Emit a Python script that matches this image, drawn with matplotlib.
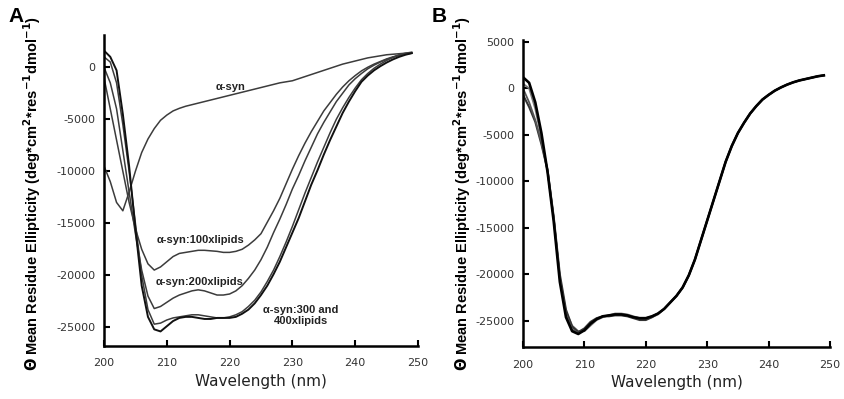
import matplotlib
import matplotlib.pyplot as plt

matplotlib.use('Agg')

plt.rcParams['font.family'] = ['DejaVu Sans']
plt.rcParams['mathtext.default'] = 'bf'
plt.rcParams['axes.unicode_minus'] = False

# Wavelength grid (nm), shared by every curve
wavelength = list(range(200, 250))

# Panel A: alpha-synuclein alone and with increasing lipid ratio
a_syn = [-9500, -11000, -13000, -13800, -12000, -10000, -8200, -6900, -5900, -5100,
         -4600, -4200, -3950, -3750, -3600, -3450, -3300, -3150, -3000, -2850,
         -2700, -2550, -2400, -2250, -2100, -1950, -1800, -1650, -1500, -1400,
         -1300, -1100, -900, -700, -500, -300, -100, 100, 300, 450,
         600, 750, 900, 1000, 1100, 1200, 1250, 1300, 1350, 1350]
a_100x = [-1000, -4000, -7000, -10000, -13000, -15500, -17500, -18900, -19500, -19200,
          -18700, -18200, -17900, -17800, -17700, -17600, -17600, -17650, -17700, -17800,
          -17800, -17700, -17500, -17100, -16600, -16000, -14900, -13800, -12600, -11200,
          -9800, -8500, -7300, -6200, -5200, -4200, -3400, -2600, -1900, -1300,
          -800, -350, 0, 300, 550, 800, 1000, 1150, 1250, 1350]
a_200x = [0, -1500, -4000, -8000, -12000, -16000, -19500, -22000, -23200, -23000,
          -22600, -22200, -21900, -21700, -21500, -21400, -21500, -21700, -21900, -21900,
          -21800, -21500, -21000, -20300, -19500, -18500, -17300, -15900, -14600, -13200,
          -11700, -10400, -9000, -7700, -6400, -5300, -4300, -3300, -2500, -1700,
          -1100, -600, -150, 200, 500, 750, 950, 1150, 1300, 1400]
a_300x = [1000, 500, -1500, -5500, -10000, -15000, -20000, -23300, -24700, -24600,
          -24300, -24100, -24000, -23900, -23800, -23800, -23900, -24000, -24100, -24100,
          -24000, -23800, -23500, -23000, -22400, -21600, -20600, -19500, -18200, -16800,
          -15300, -13700, -12100, -10600, -9100, -7700, -6300, -5000, -3900, -2900,
          -2000, -1200, -600, -100, 300, 650, 950, 1200, 1350, 1450]
a_400x = [1600, 1000, -300, -4500, -9500, -15500, -21000, -24000, -25200, -25400,
          -24900, -24400, -24100, -24000, -24000, -24100, -24200, -24200, -24100, -24100,
          -24100, -24000, -23700, -23300, -22700, -21900, -21000, -19900, -18700, -17300,
          -15900, -14500, -12900, -11300, -9900, -8400, -7000, -5700, -4400, -3300,
          -2300, -1400, -800, -300, 100, 450, 750, 1000, 1200, 1350]

# Panel B: replicate spectra
b_1 = [1200, 600, -1500, -4800, -9000, -14300, -20800, -24600, -26100, -26400,
       -26000, -25300, -24800, -24500, -24400, -24300, -24300, -24400, -24600, -24700,
       -24700, -24500, -24200, -23700, -23000, -22300, -21400, -20100, -18400, -16300,
       -14200, -12100, -10000, -7900, -6200, -4800, -3700, -2700, -1900, -1200,
       -700, -250, 100, 400, 650, 850, 1000, 1150, 1300, 1400]
b_2 = [500, 0, -2200, -5300, -8900, -14000, -20300, -24000, -25500, -26100,
       -26100, -25500, -24900, -24600, -24400, -24200, -24200, -24300, -24500, -24700,
       -24800, -24600, -24300, -23700, -23000, -22300, -21400, -20100, -18400, -16300,
       -14200, -12100, -10000, -7900, -6200, -4800, -3700, -2700, -1900, -1200,
       -700, -250, 100, 400, 650, 850, 1000, 1150, 1300, 1400]
b_3 = [0, -1500, -3400, -5800, -8800, -14000, -20500, -24300, -25900, -26300,
       -26000, -25300, -24800, -24500, -24400, -24300, -24300, -24400, -24600, -24700,
       -24700, -24500, -24200, -23700, -23000, -22300, -21400, -20100, -18400, -16300,
       -14200, -12100, -10000, -7900, -6200, -4800, -3700, -2700, -1900, -1200,
       -700, -250, 100, 400, 650, 850, 1000, 1150, 1300, 1400]
b_4 = [-700, -2000, -3600, -6000, -8800, -13800, -20000, -23800, -25600, -26200,
       -25800, -25100, -24700, -24500, -24500, -24400, -24400, -24500, -24700, -24900,
       -24900, -24600, -24200, -23700, -23000, -22300, -21400, -20100, -18400, -16300,
       -14200, -12100, -10000, -7900, -6200, -4800, -3700, -2700, -1900, -1200,
       -700, -250, 100, 400, 650, 850, 1000, 1150, 1300, 1400]

a_yticks = [0, -5000, -10000, -15000, -20000, -25000]
b_yticks = [5000, 0, -5000, -10000, -15000, -20000, -25000]
x_ticks = [200, 210, 220, 230, 240, 250]

ylabel = r'$\mathbf{\Theta}$ Mean Residue Ellipticity (deg*cm$^{2}$*res$^{-1}$dmol$^{-1}$)'

W, H = 844, 399
fig = plt.figure(figsize=(W / 100, H / 100), dpi=100)

axA = fig.add_axes([104 / W, (H - 346) / H, (418 - 104) / W, (346 - 35) / H])
axB = fig.add_axes([523 / W, (H - 347) / H, (830 - 523) / W, (347 - 40) / H])

grey = '#3c3c3c'
for y, c, lw in [(a_syn, grey, 1.1), (a_100x, grey, 1.1), (a_200x, grey, 1.1),
                 (a_300x, grey, 1.1), (a_400x, '#111111', 1.4)]:
    axA.plot(wavelength, y, color=c, lw=lw)

for y, c, lw in [(b_2, '#777777', 1.3), (b_4, '#333333', 1.5),
                 (b_3, '#555555', 1.3), (b_1, '#000000', 1.9)]:
    axB.plot(wavelength, y, color=c, lw=lw)

axA.set_ylim(-26800, 3100)
axB.set_ylim(-27800, 5200)
axA.set_yticks(a_yticks)
axB.set_yticks(b_yticks)

for ax in (axA, axB):
    ax.set_xlim(200, 250)
    ax.set_xticks(x_ticks)
    for s in ('top', 'right'):
        ax.spines[s].set_visible(False)
    for s in ('left', 'bottom'):
        ax.spines[s].set_linewidth(1.8)
    ax.tick_params(axis='both', direction='in', length=4, width=1.5,
                   labelsize=8, labelcolor='#333333')
    ax.tick_params(axis='x', pad=9)
    ax.tick_params(axis='y', pad=6)
    ax.set_xlabel('Wavelength (nm)', fontsize=11, labelpad=4, color='#222222')
    ax.set_ylabel(ylabel, fontsize=10.5, fontweight='bold', family='Liberation Sans')

axA.yaxis.set_label_coords(-(104 - 43) / (418 - 104), 0.5 - 3 / 311)
axB.yaxis.set_label_coords(-(523 - 473) / (830 - 523), 0.5)

# Curve annotations in panel A
lab = dict(fontsize=8, fontweight='bold', family='Liberation Sans',
           color='#222222', ha='center', va='center')
axA.text(220.1, -1900, 'α-syn', **lab)
axA.text(215.3, -16600, 'α-syn:100xlipids', **lab)
axA.text(215.2, -20600, 'α-syn:200xlipids', **lab)
axA.text(231.3, -23900, 'α-syn:300 and\n400xlipids', linespacing=1.1, **lab)

fig.text(8 / W, 1 - 16 / H, 'A', fontsize=15, fontweight='bold', va='center',
         family='Liberation Sans')
fig.text(432 / W, 1 - 16 / H, 'B', fontsize=15, fontweight='bold', va='center',
         family='Liberation Sans')

fig.savefig('out.png', dpi=100)
